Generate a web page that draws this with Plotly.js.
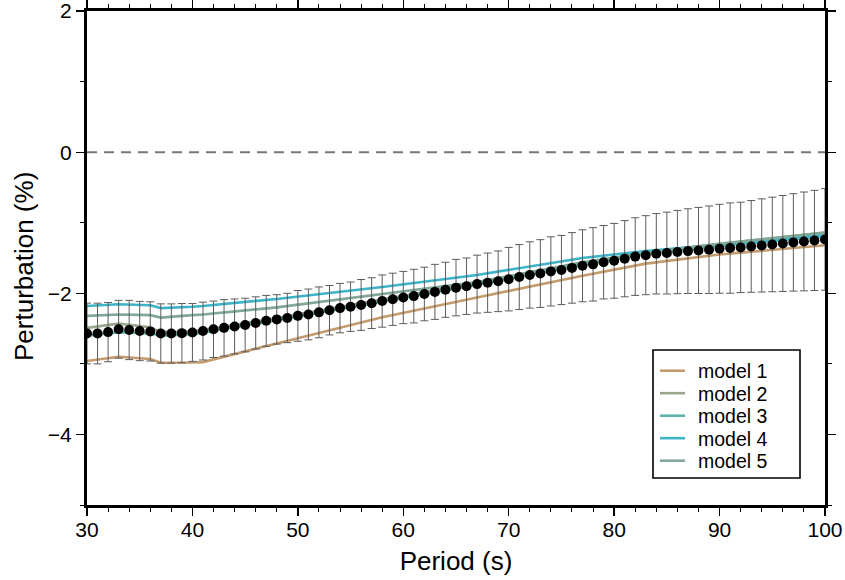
<!DOCTYPE html>
<html>
<head>
<meta charset="utf-8">
<script src="https://cdn.plot.ly/plotly-3.0.1.min.js"></script>
<style>html,body{margin:0;padding:0;background:#fff;}#chart{width:845px;height:580px;}</style>
</head>
<body>
<div id="chart"></div>
<script>
// Mean perturbation with error bars, one point per period
const periods = [30,31,32,33,34,35,36,37,38,39,40,41,42,43,44,45,46,47,48,49,50,51,52,53,54,55,56,57,58,59,60,61,62,63,64,65,66,67,68,69,70,71,72,73,74,75,76,77,78,79,80,81,82,83,84,85,86,87,88,89,90,91,92,93,94,95,96,97,98,99,100];
const meanVals = [-2.57,-2.57,-2.55,-2.51,-2.52,-2.535,-2.54,-2.57,-2.57,-2.565,-2.555,-2.535,-2.51,-2.49,-2.47,-2.45,-2.42,-2.39,-2.37,-2.35,-2.32,-2.30,-2.27,-2.24,-2.21,-2.19,-2.165,-2.14,-2.11,-2.085,-2.06,-2.04,-2.01,-1.98,-1.95,-1.92,-1.90,-1.87,-1.85,-1.83,-1.80,-1.77,-1.74,-1.72,-1.69,-1.67,-1.64,-1.61,-1.59,-1.56,-1.54,-1.51,-1.48,-1.46,-1.44,-1.43,-1.416,-1.402,-1.393,-1.383,-1.369,-1.359,-1.35,-1.336,-1.322,-1.308,-1.294,-1.279,-1.265,-1.251,-1.237];
const errVals = [0.43,0.43,0.42,0.41,0.42,0.42,0.42,0.42,0.42,0.42,0.41,0.41,0.40,0.40,0.39,0.38,0.37,0.36,0.35,0.35,0.36,0.36,0.36,0.35,0.35,0.35,0.36,0.36,0.37,0.37,0.37,0.38,0.38,0.39,0.39,0.40,0.40,0.41,0.42,0.43,0.45,0.46,0.47,0.48,0.49,0.49,0.50,0.51,0.52,0.52,0.53,0.54,0.55,0.56,0.57,0.58,0.59,0.60,0.61,0.62,0.63,0.64,0.64,0.65,0.66,0.67,0.68,0.69,0.70,0.71,0.72];

// Model curves (breakpoints)
const modelPeriods = [30,33,36,37,40,41,48,58,67,77,83,90,100];
const model1 = [-2.96,-2.90,-2.93,-2.985,-2.98,-2.975,-2.71,-2.34,-2.06,-1.75,-1.58,-1.45,-1.32];
const model2 = [-2.49,-2.43,-2.48,-2.55,-2.54,-2.52,-2.35,-2.09,-1.85,-1.58,-1.42,-1.30,-1.14];
const model3 = [-2.60,-2.55,-2.57,-2.60,-2.58,-2.56,-2.38,-2.12,-1.88,-1.60,-1.44,-1.33,-1.19];
const model4 = [-2.18,-2.155,-2.17,-2.21,-2.19,-2.18,-2.08,-1.91,-1.74,-1.50,-1.40,-1.31,-1.18];
const model5 = [-2.32,-2.30,-2.31,-2.345,-2.31,-2.30,-2.20,-2.01,-1.84,-1.56,-1.43,-1.30,-1.14];
const modelNames = ['model 1','model 2','model 3','model 4','model 5'];
const modelColors = ['#c49b6c','#9aa78e','#5fb5ae','#3cb4c9','#7fa897'];

const xTicks = [30,40,50,60,70,80,90,100];
const yTicks = [-4,-2,0,2];

const FONT = 'Liberation Sans, Arial, Helvetica, sans-serif';
const models = [model1, model2, model3, model4, model5];
const traces = models.map((m, i) => ({
  type: 'scatter', mode: 'lines', x: modelPeriods, y: m,
  name: modelNames[i], line: {color: modelColors[i], width: 2.6},
  showlegend: false, hoverinfo: 'skip'
}));
traces.push({
  type: 'scatter', mode: 'markers', x: periods, y: meanVals,
  showlegend: false,
  marker: {color: '#000', size: 10},
  error_y: {type: 'data', array: errVals, symmetric: true, color: '#5c5c5c', thickness: 1, width: 4}
});

// Plot area in pixels: x 87..825, y 11..505
const L = 87, R = 825, T = 11, B = 505;
const px2x = p => (p - L) / (R - L);
const px2y = p => (B - p) / (B - T);

const shapes = [
  {type: 'line', xref: 'paper', yref: 'y', x0: 0, x1: 1, y0: 0, y1: 0,
   line: {color: '#777', width: 2, dash: '10px,7px'}, layer: 'below'},
  {type: 'rect', xref: 'paper', yref: 'paper', x0: px2x(653), x1: px2x(800), y0: px2y(478), y1: px2y(350),
   line: {color: '#000', width: 1.6}, fillcolor: '#fff', layer: 'above'}
];
const annotations = [
  {xref: 'paper', yref: 'paper', x: px2x(24), y: px2y(267), text: 'Perturbation (%)', textangle: -90,
   showarrow: false, xanchor: 'center', yanchor: 'middle', font: {family: FONT, size: 26, color: '#000'}}
];
modelNames.forEach((name, i) => {
  const yc = 370.7 + i * 22.5;
  shapes.push({type: 'line', xref: 'paper', yref: 'paper', x0: px2x(660), x1: px2x(685), y0: px2y(yc), y1: px2y(yc),
    line: {color: modelColors[i], width: 2.6}, layer: 'above'});
  annotations.push({xref: 'paper', yref: 'paper', x: px2x(696), y: px2y(yc + 0.5), text: name, showarrow: false,
    xanchor: 'left', yanchor: 'middle', font: {family: FONT, size: 19.5, color: '#000'}});
});

const layout = {
  width: 845, height: 580,
  margin: {l: L, r: 845 - R, t: T, b: 580 - B},
  paper_bgcolor: '#fff', plot_bgcolor: '#fff',
  font: {family: FONT, color: '#000'},
  showlegend: false,
  xaxis: {
    range: [30, 100], tickvals: xTicks, ticktext: xTicks.map(String),
    ticks: 'outside', ticklen: 8, tickwidth: 1.3, tickcolor: '#000',
    showline: true, linewidth: 3, linecolor: '#000', mirror: 'allticks',
    showgrid: false, zeroline: false,
    minor: {dtick: 2, tick0: 30, ticks: 'outside', ticklen: 4, tickwidth: 1, tickcolor: '#000', showgrid: false},
    tickfont: {family: FONT, size: 21, color: '#000'},
    ticklabelstandoff: -4,
    title: {text: 'Period (s)', font: {family: FONT, size: 26, color: '#000'}, standoff: 12},
    automargin: false
  },
  yaxis: {
    range: [-5, 2.0001], tickvals: yTicks, ticktext: yTicks.map(v => v < 0 ? '\u2212' + Math.abs(v) : String(v)),
    ticks: 'outside', ticklen: 8, tickwidth: 1.3, tickcolor: '#000',
    showline: true, linewidth: 3, linecolor: '#000', mirror: 'allticks',
    showgrid: false, zeroline: false,
    minor: {dtick: 1, tick0: 0, ticks: 'outside', ticklen: 4, tickwidth: 1, tickcolor: '#000', showgrid: false},
    tickfont: {family: FONT, size: 21, color: '#000'},
    ticklabeloverflow: 'allow',
    automargin: false
  },
  shapes: shapes,
  annotations: annotations
};

Plotly.newPlot('chart', traces, layout, {displayModeBar: false, staticPlot: true});
</script>
</body>
</html>
